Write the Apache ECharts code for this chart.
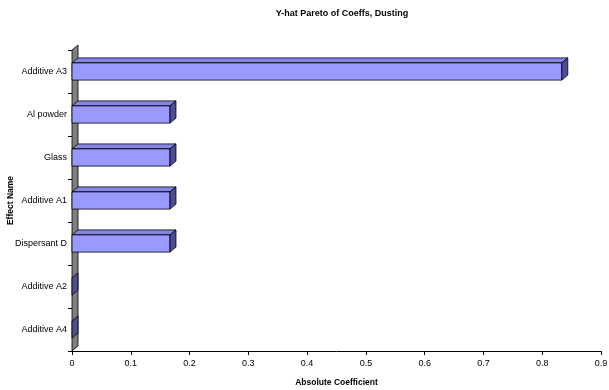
<!DOCTYPE html>
<html>
<head>
<meta charset="utf-8">
<script src="https://cdn.jsdelivr.net/npm/echarts@6/dist/echarts.min.js"></script>
<style>
  html, body { margin: 0; padding: 0; background: #fff; }
  #chart { width: 609px; height: 390px; }
</style>
</head>
<body>
<div id="chart"></div>
<script>
// Effects listed from largest to smallest absolute coefficient
const effectNames = ['Additive A3', 'Al powder', 'Glass', 'Additive A1', 'Dispersant D', 'Additive A2', 'Additive A4'];
const absCoeff = [0.8333, 0.1667, 0.1667, 0.1667, 0.1667, 0, 0];
const xTickMin = 0;
const xTickMax = 0.9;
const xTickStep = 0.1;

// Depth offset used for the pseudo-3D look
const DEPTH_X = 6;
const DEPTH_Y = 5;
const FACE_RATIO = 0.4;

const FRONT = '#9999ff';
const TOP = '#8585e6';
const SIDE = '#4d4d8f';
const EDGE = '#000000';

function poly(points, fill) {
  return {
    type: 'polygon',
    shape: { points: points },
    style: { fill: fill, stroke: EDGE, lineWidth: 0.8 }
  };
}

function renderWall(params, api) {
  const cs = params.coordSys;
  const x0 = api.coord([0, 0])[0];
  const top = cs.y;
  const bottom = cs.y + cs.height;
  return poly([
    [x0, top],
    [x0 + DEPTH_X, top - DEPTH_Y],
    [x0 + DEPTH_X, bottom - DEPTH_Y],
    [x0, bottom]
  ], '#808080');
}

function renderBar(params, api) {
  const idx = api.value(0);
  const val = api.value(1);
  const p0 = api.coord([0, idx]);
  const p1 = api.coord([val, idx]);
  const band = api.size([0, 1])[1];
  const half = band * FACE_RATIO / 2;
  const x0 = p0[0];
  const x1 = p1[0];
  const cy = p0[1];
  const top = cy - half;
  const bot = cy + half;
  const children = [];
  if (x1 - x0 > 0.5) {
    children.push(poly([[x0, top], [x0 + DEPTH_X, top - DEPTH_Y], [x1 + DEPTH_X, top - DEPTH_Y], [x1, top]], TOP));
    children.push(poly([[x0, top], [x1, top], [x1, bot], [x0, bot]], FRONT));
  }
  children.push(poly([[x1, top], [x1 + DEPTH_X, top - DEPTH_Y], [x1 + DEPTH_X, bot - DEPTH_Y], [x1, bot]], SIDE));
  return { type: 'group', children: children };
}

const chart = echarts.init(document.getElementById('chart'), null, { renderer: 'canvas' });

const labelFont = { fontFamily: 'Liberation Sans, Arial, sans-serif', fontSize: 9, color: '#000' };

chart.setOption({
  animation: false,
  backgroundColor: '#ffffff',
  title: {
    text: 'Y-hat Pareto of Coeffs, Dusting',
    left: 337,
    textAlign: 'center',
    top: 4,
    textStyle: { fontFamily: 'Liberation Sans, Arial, sans-serif', fontSize: 9, fontWeight: 'bold', color: '#000' }
  },
  grid: { left: 72, right: 8, top: 50, bottom: 39, containLabel: false, outerBoundsMode: 'none' },
  xAxis: {
    type: 'value',
    min: xTickMin,
    max: xTickMax,
    interval: xTickStep,
    name: 'Absolute Coefficient',
    nameLocation: 'middle',
    nameGap: 27,
    nameMoveOverlap: false,
    nameTextStyle: { fontFamily: 'Liberation Sans, Arial, sans-serif', fontSize: 8.5, fontWeight: 'bold', color: '#000' },
    axisLine: { show: true, lineStyle: { color: '#000', width: 1 } },
    axisTick: { show: true, length: 4, lineStyle: { color: '#000' } },
    axisLabel: Object.assign({ margin: 8, formatter: v => String(Math.round(v * 10) / 10) }, labelFont),
    splitLine: { show: false }
  },
  yAxis: {
    type: 'category',
    inverse: true,
    data: effectNames,
    name: 'Effect Name',
    nameLocation: 'middle',
    nameGap: 57,
    nameRotate: 90,
    nameMoveOverlap: false,
    nameTextStyle: { fontFamily: 'Liberation Sans, Arial, sans-serif', fontSize: 8.5, fontWeight: 'bold', color: '#000' },
    axisLine: { show: false },
    axisTick: { show: true, length: 4, inside: false, lineStyle: { color: '#000' } },
    axisLabel: Object.assign({ margin: 5 }, labelFont),
    splitLine: { show: false }
  },
  series: [
    {
      type: 'custom',
      name: 'wall',
      renderItem: renderWall,
      data: [[0, 0]],
      encode: { x: 1, y: 0 },
      silent: true,
      z: 1
    },
    {
      type: 'custom',
      name: 'Absolute Coefficient',
      renderItem: renderBar,
      data: effectNames.map((n, i) => [i, absCoeff[i]]),
      encode: { x: 1, y: 0 },
      z: 2
    }
  ]
});
</script>
</body>
</html>
